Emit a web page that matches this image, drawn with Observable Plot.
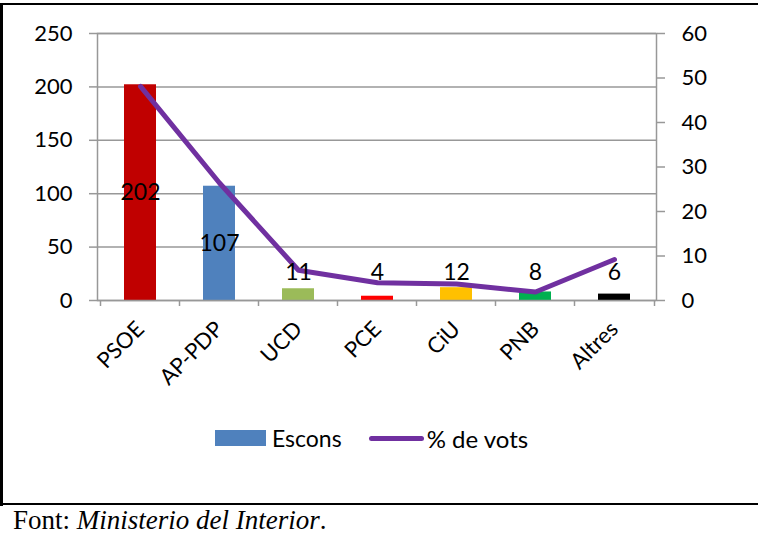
<!DOCTYPE html>
<html><head><meta charset="utf-8">
<script src="https://cdn.jsdelivr.net/npm/d3@7"></script>
<script src="https://cdn.jsdelivr.net/npm/@observablehq/plot@0.6"></script>
<style>
body{margin:0;background:#fff;}
#wrap{position:relative;width:758px;height:536px;overflow:hidden;font-family:Lato,sans-serif;background:#fff;}
#chart{position:absolute;left:0;top:0;}
.bl{position:absolute;background:#000;}
#legend{position:absolute;top:424px;left:215px;height:28px;font-size:23px;display:flex;align-items:center;white-space:nowrap;}
#legend .sw{width:51px;height:16px;background:#4F81BD;margin-right:6px;}
#legend .ln{width:55px;height:5px;border-radius:3px;background:#7030A0;margin-left:27px;margin-right:3px;}
#legend .t2{font-size:24px;}
#caption{position:absolute;left:13px;top:505px;font-family:"Liberation Serif","Times New Roman",serif;font-size:27px;line-height:31px;white-space:nowrap;}
</style></head>
<body>
<div id="wrap">
<div id="chart"></div>
<div class="bl" style="left:0;top:3px;width:758px;height:2px"></div>
<div class="bl" style="left:0;top:3px;width:3px;height:503px"></div>
<div class="bl" style="left:0;top:503px;width:758px;height:2px"></div>
<div id="legend"><div class="sw"></div><span>Escons</span><div class="ln"></div><span class="t2">% de vots</span></div>
<div id="caption">Font: <i>Ministerio del Interior</i>.</div>
</div>
<script>
const parties = ["PSOE","AP-PDP","UCD","PCE","CiU","PNB","Altres"];
const seats = [202,107,11,4,12,8,6];
const votePct = [48.1,26.4,6.8,4.0,3.7,1.9,9.2];
const barColors = ["#C00000","#4F81BD","#9BBB59","#FF0000","#FFC000","#00B050","#000000"];
const leftTicks = [0,50,100,150,200,250];
const rightTicks = [0,10,20,30,40,50,60];

const k = 250/60;
const data = parties.map((p,i)=>({party:p, seats:seats[i], pct:votePct[i], color:barColors[i]}));
const gray = "#989898";
const tickLen = 6*250/267;

const plot = Plot.plot({
  width:758, height:505,
  marginLeft:97, marginRight:102, marginTop:33, marginBottom:205,
  style:{fontFamily:"Lato, sans-serif", fontSize:"22px", color:"#000", background:"transparent", overflow:"visible"},
  x:{domain:parties, paddingInner:0.6, paddingOuter:0.3, label:null},
  y:{domain:[0,250], label:null},
  marks:[
    Plot.gridY(leftTicks,{stroke:gray, strokeOpacity:1, strokeWidth:1.5}),
    Plot.barY(data,{x:"party", y:"seats", fill:"color"}),
    Plot.frame({stroke:gray, strokeWidth:1.5}),
    Plot.ruleX(parties,{x:d=>d, dx:-40, y1:0, y2:-tickLen, stroke:gray, strokeWidth:1.5}),
    Plot.ruleX([parties[parties.length-1]],{x:d=>d, dx:40, y1:0, y2:-tickLen, stroke:gray, strokeWidth:1.5}),
    Plot.axisY(leftTicks,{anchor:"left", tickSize:8, tickPadding:17, stroke:gray, strokeWidth:1.5, fill:"#000", fontSize:22, label:null}),
    Plot.axisY(rightTicks.map(t=>t*k),{anchor:"right", tickSize:8, tickPadding:17, tickFormat:d=>String(Math.round(d/k)), stroke:gray, strokeWidth:1.5, fill:"#000", fontSize:22, label:null}),
    Plot.axisX({anchor:"bottom", tickSize:0, tickPadding:25, tickRotate:-45, fontSize:22, fill:"#000", label:null}),
    Plot.line(data,{x:"party", y:d=>d.pct*k, stroke:"#7030A0", strokeWidth:5, strokeLinecap:"round", strokeLinejoin:"round"}),
    Plot.text(data,{x:"party", y:d=>Math.max(d.seats/2,26), text:d=>String(d.seats), fontSize:23, fill:"#000"})
  ]
});
document.getElementById("chart").appendChild(plot);
</script>
</body></html>
